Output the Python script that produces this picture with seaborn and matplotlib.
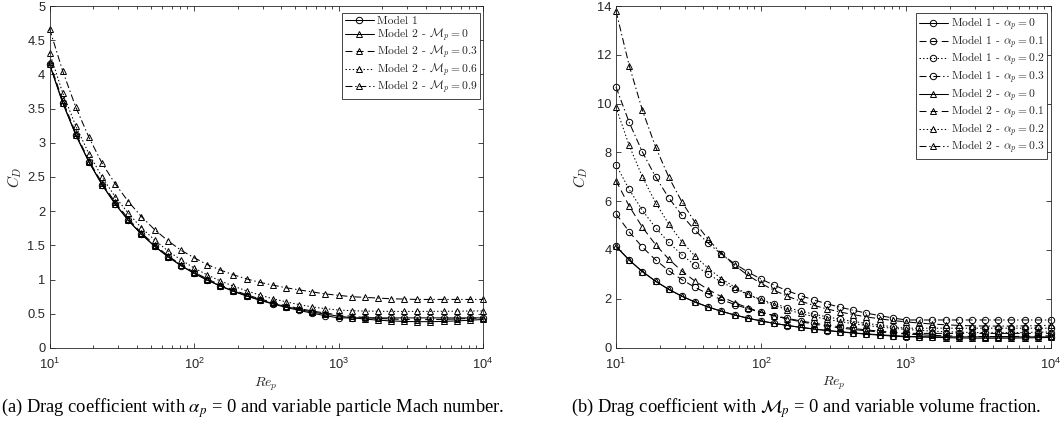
import numpy as np
import matplotlib
matplotlib.use("Agg")
import matplotlib.pyplot as plt
from matplotlib.font_manager import FontProperties
from matplotlib.ticker import LogLocator, NullFormatter, FuncFormatter
import seaborn as sns

# Particle Reynolds number sample points (shared by every curve)
re_p = [10, 12.33, 15.20, 18.74, 23.10, 28.48, 35.11, 43.29, 53.37, 65.79,
        81.11, 100, 123.3, 152.0, 187.4, 231.0, 284.8, 351.1, 432.9, 533.7,
        657.9, 811.1, 1000, 1233, 1520, 1874, 2310, 2848, 3511, 4329,
        5337, 6579, 8111, 10000]

# (a) alpha_p = 0, variable particle Mach number
model1 = [4.151, 3.587, 3.115, 2.720, 2.386, 2.105, 1.866, 1.662, 1.487, 1.336,
          1.205, 1.092, 0.993, 0.905, 0.828, 0.759, 0.698, 0.643, 0.594, 0.549,
          0.509, 0.472, 0.440, 0.440, 0.440, 0.440, 0.440, 0.440, 0.440, 0.440,
          0.440, 0.440, 0.440, 0.440]
model2_m00 = [4.151, 3.587, 3.115, 2.720, 2.387, 2.105, 1.866, 1.662, 1.488, 1.337,
              1.207, 1.094, 0.995, 0.908, 0.832, 0.765, 0.705, 0.652, 0.605, 0.563,
              0.526, 0.494, 0.466, 0.443, 0.423, 0.407, 0.396, 0.388, 0.385, 0.385,
              0.389, 0.396, 0.406, 0.417]
model2_m03 = [4.180, 3.620, 3.140, 2.740, 2.410, 2.130, 1.890, 1.680, 1.510, 1.350,
              1.220, 1.110, 1.010, 0.922, 0.847, 0.779, 0.719, 0.666, 0.619, 0.577,
              0.541, 0.510, 0.484, 0.463, 0.446, 0.433, 0.424, 0.417, 0.415, 0.415,
              0.419, 0.424, 0.433, 0.442]
model2_m06 = [4.320, 3.730, 3.245, 2.840, 2.500, 2.210, 1.970, 1.755, 1.580, 1.420,
              1.290, 1.170, 1.070, 0.980, 0.905, 0.835, 0.775, 0.720, 0.675, 0.635,
              0.600, 0.575, 0.555, 0.545, 0.540, 0.537, 0.535, 0.535, 0.535, 0.535,
              0.537, 0.538, 0.540, 0.542]
model2_m09 = [4.670, 4.050, 3.520, 3.080, 2.700, 2.400, 2.140, 1.920, 1.730, 1.570,
              1.430, 1.320, 1.220, 1.140, 1.070, 1.010, 0.960, 0.920, 0.880, 0.850,
              0.820, 0.790, 0.770, 0.750, 0.740, 0.730, 0.720, 0.715, 0.710, 0.710,
              0.710, 0.710, 0.710, 0.710]

# (b) M_p = 0, variable volume fraction
model1_a01 = [5.488, 4.742, 4.118, 3.596, 3.155, 2.783, 2.467, 2.197, 1.966, 1.766,
              1.593, 1.444, 1.313, 1.197, 1.095, 1.003, 0.923, 0.850, 0.785, 0.726,
              0.673, 0.624, 0.582, 0.582, 0.582, 0.582, 0.582, 0.582, 0.582, 0.582,
              0.582, 0.582, 0.582, 0.582]
model1_a02 = [7.498, 6.480, 5.627, 4.913, 4.310, 3.802, 3.371, 3.002, 2.686, 2.413,
              2.177, 1.973, 1.794, 1.635, 1.496, 1.371, 1.261, 1.162, 1.073, 0.992,
              0.919, 0.853, 0.795, 0.795, 0.795, 0.795, 0.795, 0.795, 0.795, 0.795,
              0.795, 0.795, 0.795, 0.795]
model1_a03 = [10.682, 9.230, 8.016, 6.999, 6.140, 5.417, 4.802, 4.277, 3.827, 3.438,
              3.101, 2.810, 2.555, 2.329, 2.131, 1.953, 1.796, 1.655, 1.529, 1.413,
              1.310, 1.215, 1.132, 1.132, 1.132, 1.132, 1.132, 1.132, 1.132, 1.132,
              1.132, 1.132, 1.132, 1.132]
model2_a01 = [6.841, 5.797, 4.934, 4.220, 3.627, 3.134, 2.721, 2.376, 2.086, 1.840,
              1.632, 1.455, 1.304, 1.173, 1.061, 0.964, 0.879, 0.806, 0.742, 0.686,
              0.637, 0.595, 0.559, 0.528, 0.503, 0.483, 0.468, 0.458, 0.452, 0.451,
              0.455, 0.462, 0.472, 0.484]
model2_a02 = [9.846, 8.283, 6.998, 5.940, 5.066, 4.343, 3.743, 3.244, 2.828, 2.479,
              2.186, 1.939, 1.730, 1.552, 1.400, 1.270, 1.158, 1.062, 0.979, 0.907,
              0.845, 0.792, 0.746, 0.708, 0.676, 0.651, 0.632, 0.619, 0.612, 0.610,
              0.613, 0.620, 0.630, 0.643]
model2_a03 = [13.793, 11.561, 9.730, 8.227, 6.990, 5.971, 5.128, 4.431, 3.852, 3.370,
              2.967, 2.630, 2.346, 2.107, 1.904, 1.732, 1.585, 1.459, 1.351, 1.259,
              1.179, 1.111, 1.054, 1.006, 0.966, 0.934, 0.910, 0.893, 0.883, 0.880,
              0.882, 0.890, 0.901, 0.915]

labels_a = ["Model 1",
            r"Model 2 - $\mathcal{M}_p = 0$",
            r"Model 2 - $\mathcal{M}_p = 0.3$",
            r"Model 2 - $\mathcal{M}_p = 0.6$",
            r"Model 2 - $\mathcal{M}_p = 0.9$"]
labels_b = [r"Model 1 - $\alpha_p = 0$",
            r"Model 1 - $\alpha_p = 0.1$",
            r"Model 1 - $\alpha_p = 0.2$",
            r"Model 1 - $\alpha_p = 0.3$",
            r"Model 2 - $\alpha_p = 0$",
            r"Model 2 - $\alpha_p = 0.1$",
            r"Model 2 - $\alpha_p = 0.2$",
            r"Model 2 - $\alpha_p = 0.3$"]

SOLID = "-"
DASHED = (0, (5.0, 3.0))
DOTTED = (0, (1.0, 1.6))
DASHDOT = (0, (5.0, 2.0, 1.0, 2.0))
INK = "#262626"

sns.set_theme(style="ticks")
plt.rcParams.update({
    "font.family": ["Liberation Sans", "DejaVu Sans"],
    "mathtext.fontset": "custom",
    "mathtext.rm": "Liberation Sans",
    "mathtext.it": "Liberation Sans:italic",
    "mathtext.bf": "Liberation Sans:bold",
    "lines.scale_dashes": False,
    "axes.linewidth": 0.6,
    "axes.edgecolor": INK,
    "xtick.color": INK,
    "ytick.color": INK,
    "axes.labelcolor": INK,
})

fig = plt.figure(figsize=(10.63, 4.38), dpi=100)
ax_a = fig.add_axes([0.0466, 0.2055, 0.4078, 0.7808])
ax_b = fig.add_axes([0.5795, 0.2064, 0.4092, 0.7799])


def draw(ax, values, style, marker, label, ms):
    sns.lineplot(x=re_p, y=values, ax=ax, color="black", linestyle=style,
                 linewidth=0.75, marker=marker, markersize=ms,
                 markerfacecolor="none", markeredgecolor="black",
                 markeredgewidth=0.7, label=label, errorbar=None,
                 clip_on=False)


# (a)
draw(ax_a, model1, SOLID, "o", labels_a[0], 4.6)
draw(ax_a, model2_m00, SOLID, "^", labels_a[1], 5.0)
draw(ax_a, model2_m03, DASHED, "^", labels_a[2], 5.0)
draw(ax_a, model2_m06, DOTTED, "^", labels_a[3], 5.0)
draw(ax_a, model2_m09, DASHDOT, "^", labels_a[4], 5.0)

# (b)
styles = [SOLID, DASHED, DOTTED, DASHDOT]
for vals, st, lab in zip([model1, model1_a01, model1_a02, model1_a03], styles, labels_b[:4]):
    draw(ax_b, vals, st, "o", lab, 4.6)
for vals, st, lab in zip([model2_m00, model2_a01, model2_a02, model2_a03], styles, labels_b[4:]):
    draw(ax_b, vals, st, "^", lab, 5.0)

label_math = dict(math_fontfamily="cm", color=INK)

panel_setup = [(ax_a, 5, 0.5, (0.993, 0.979)),
               (ax_b, 14, 2, (0.991, 0.980))]
for ax, ymax, ystep, anchor in panel_setup:
    ax.set_xscale("log")
    ax.set_xlim(10, 1e4)
    ax.set_ylim(0, ymax)
    ax.set_xticks([10, 100, 1000, 10000])
    ax.set_xticklabels([r"$10^{1}$", r"$10^{2}$", r"$10^{3}$", r"$10^{4}$"])
    ax.xaxis.set_minor_locator(LogLocator(base=10, subs=np.arange(2, 10)))
    ax.xaxis.set_minor_formatter(NullFormatter())
    ax.set_yticks(np.arange(0, ymax + ystep / 2, ystep))
    ax.yaxis.set_major_formatter(FuncFormatter(lambda v, p: f"{v:g}"))
    ax.tick_params(which="both", direction="in", top=True, right=True,
                   width=0.6, labelsize=9.3)
    ax.tick_params(axis="x", which="major", pad=6.5)
    ax.tick_params(axis="y", which="major", pad=3)
    ax.tick_params(which="major", length=3.6)
    ax.tick_params(which="minor", length=2.0)
    for s in ax.spines.values():
        s.set_visible(True)
        s.set_linewidth(0.6)
    ax.set_xlabel(r"$Re_p$", fontsize=10, **label_math)
    ax.xaxis.set_label_coords(0.5, -0.08)
    ax.set_ylabel(r"$C_D$", fontsize=11, **label_math)
    ax.yaxis.set_label_coords(-0.06, 0.5)
    leg_font = FontProperties(family="cmr10", size=8.3, math_fontfamily="cm")
    leg = ax.legend(loc="upper right", bbox_to_anchor=anchor, borderaxespad=0,
                    prop=leg_font, handlelength=2.5, handletextpad=0.25,
                    labelspacing=0.0, borderpad=0.25, frameon=True,
                    fancybox=False, framealpha=1, edgecolor=INK, numpoints=1)
    leg.get_frame().set_linewidth(0.6)

cap_font = FontProperties(family="Liberation Serif", size=13.3, math_fontfamily="stix")
fig.text(253 / 1063, 1 - 408 / 438,
         r"(a) Drag coefficient with $\alpha_p$ = 0 and variable particle Mach number.",
         ha="center", va="center", fontproperties=cap_font, color="black")
fig.text(806 / 1063, 1 - 408 / 438,
         r"(b) Drag coefficient with $\mathcal{M}_p$ = 0 and variable volume fraction.",
         ha="center", va="center", fontproperties=cap_font, color="black")

fig.savefig("out.png", dpi=100)
